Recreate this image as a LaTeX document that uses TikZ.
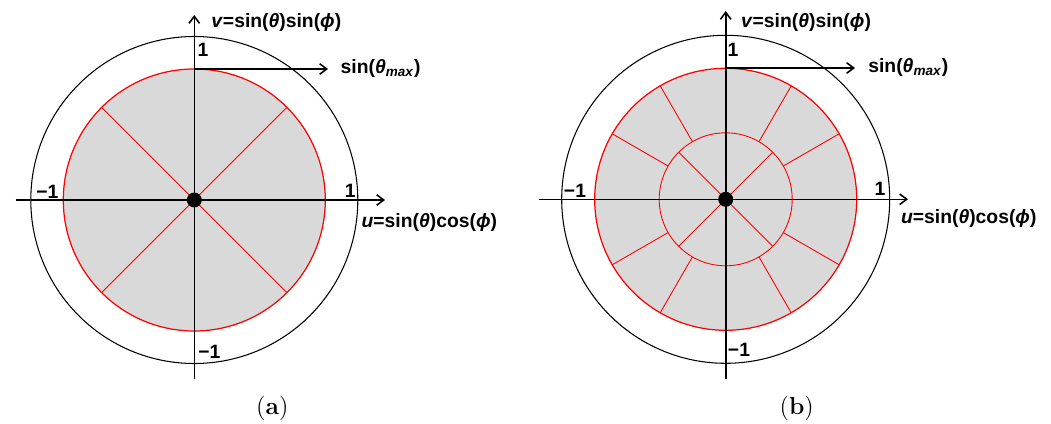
\documentclass[tikz,border=0pt]{standalone}
\usepackage{fontspec}
\usepackage{tikz}
\usetikzlibrary{arrows.meta}
\newfontfamily\labelfont{Liberation Sans}
\definecolor{regiongray}{HTML}{D9D9D9}
\tikzset{
  axis/.style={line width=0.9pt,-{Straight Barb[length=4pt,width=6pt]}},
  rim/.style={line width=0.6pt},
  region/.style={fill=regiongray, draw=red, line width=0.7pt},
  cell/.style={red, line width=0.5pt},
  lbl/.style={font=\labelfont\bfseries\fontsize{11}{13}\selectfont, inner sep=0pt},
  capt/.style={font=\fontsize{14}{16}\selectfont, inner sep=0pt}
}
\begin{document}
\begin{tikzpicture}[x=0.02cm,y=0.02cm]
    \useasboundingbox (0,0) rectangle (1051,423);

    % (a): one ring, four sectors
    \begin{scope}[shift={(194.3,223)}]
    \draw[rim] (0,0) circle(163.5);      % unit circle
    \draw[region] (0,0) circle(131);     % sin(theta_max)
    \foreach \a in {45,135,225,315}
      \draw[cell] (0,0) -- (\a:131);
    \draw[axis] (-178.6,0) -- (190.7,0);
    \draw[axis] (0,-179) -- (0,185);
    \draw[axis] (0,131) -- (133.7,131);
    \fill (0,0) circle(7.5);

    \node[lbl, anchor=west] (vA) at (16.7,177) {\textit{v}=sin(\textit{θ})sin(\textit{ϕ})};
    \node[lbl, anchor=west] (uA) at (167,-23) {\textit{u}=sin(\textit{θ})cos(\textit{ϕ})};
    \node[lbl, anchor=west] (tA) at (146,131) {sin(\textit{θ}\textsubscript{\textit{max}})};
    \node[lbl] (topA) at (8.7,150) {1};
    \node[lbl] (leftA) at (-147,8) {−1};
    \node[lbl] (rightA) at (156,9) {1};
    \node[lbl] (botA) at (15,-152) {−1};
    \node[capt] (capA) at (78,-208) {(\textbf{a})};
    \end{scope}

    % (b): inner disc and outer ring
    \begin{scope}[shift={(725.7,223.7)}]
    \draw[rim] (0,0) circle(164);
    \draw[region] (0,0) circle(131);
    \draw[cell] (0,0) circle(66.5);
    \foreach \a in {45,135,225,315}
      \draw[cell] (0,0) -- (\a:66.5);
    \foreach \a in {30,60,120,150,210,240,300,330}
      \draw[cell] (\a:66.5) -- (\a:131);
    \draw[axis] (-186.4,0) -- (182.3,0);
    \draw[axis] (0,-179.7) -- (0,188.3);
    \draw[axis] (0,131.3) -- (129.3,131.3);
    \fill (0,0) circle(7.5);

    \node[lbl, anchor=west] (vB) at (15,177) {\textit{v}=sin(\textit{θ})sin(\textit{ϕ})};
    \node[lbl, anchor=west] (uB) at (175,-19) {\textit{u}=sin(\textit{θ})cos(\textit{ϕ})};
    \node[lbl, anchor=west] (tB) at (142.3,131.3) {sin(\textit{θ}\textsubscript{\textit{max}})};
    \node[lbl] (topB) at (7.3,149.3) {1};
    \node[lbl] (leftB) at (-150.7,8.6) {−1};
    \node[lbl] (rightB) at (154.3,10.3) {1};
    \node[lbl] (botB) at (13.3,-150.7) {−1};
    \node[capt] (capB) at (71,-208.7) {(\textbf{b})};
    \end{scope}
\end{tikzpicture}
\end{document}
